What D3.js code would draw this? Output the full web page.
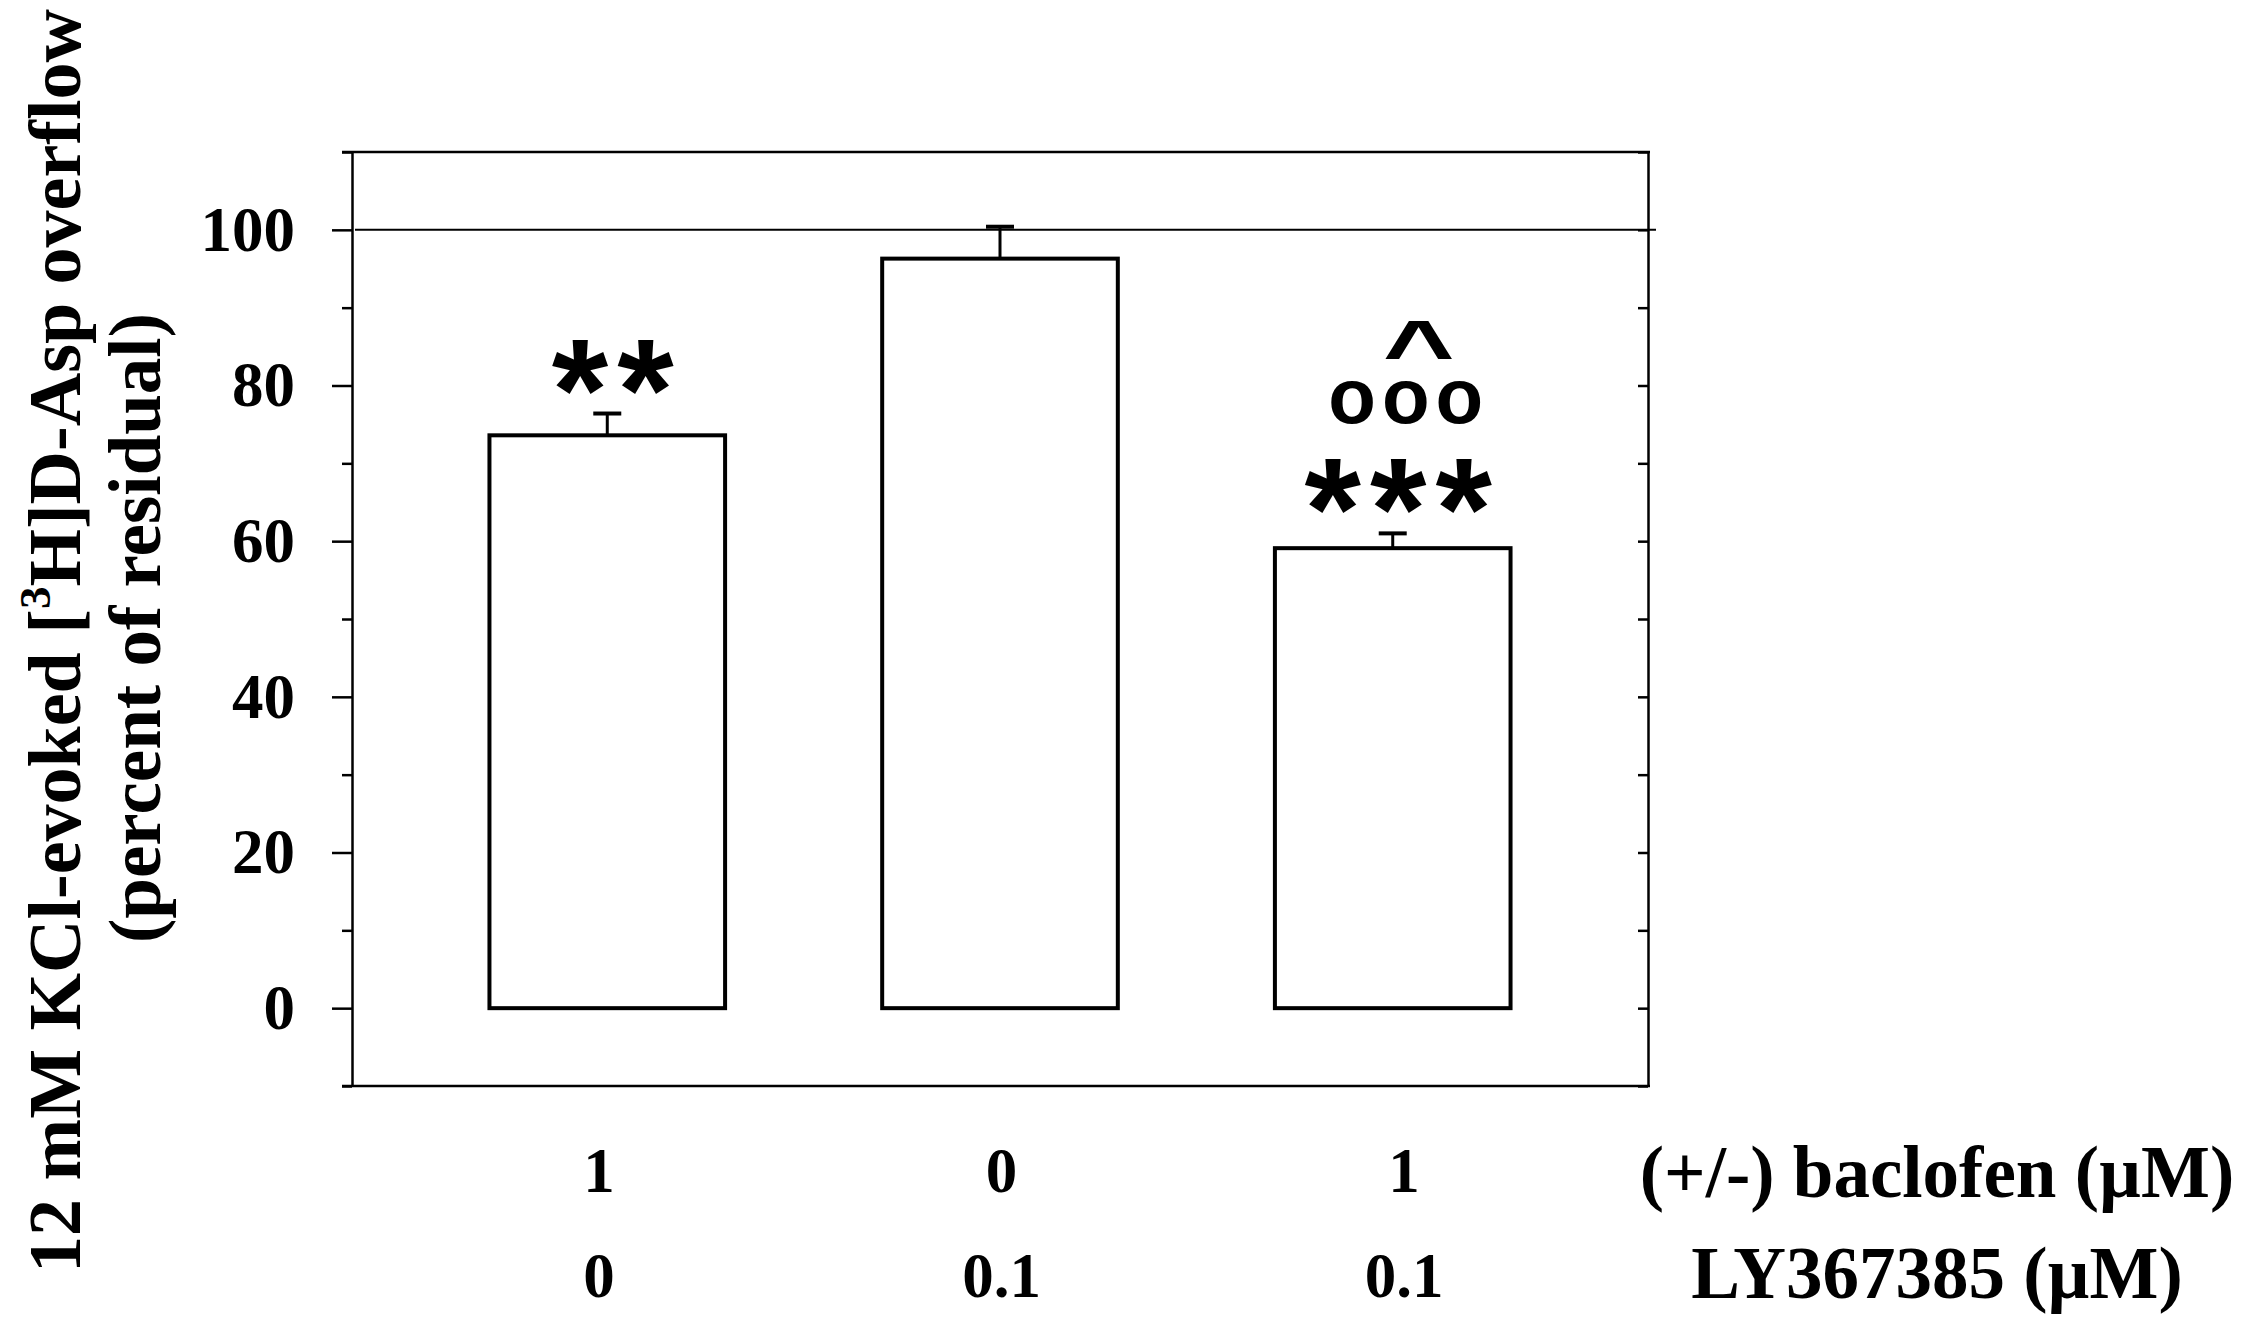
<!DOCTYPE html>
<html><head><meta charset="utf-8">
<script src="https://cdn.jsdelivr.net/npm/d3@7"></script>
<style>body{margin:0;background:#fff} svg{display:block}</style>
</head><body>
<svg id="chart" width="2247" height="1331"></svg>
<script>
const categories = ["bac1_ly0", "bac0_ly0.1", "bac1_ly0.1"];
const overflow = [73.6, 96.3, 59.1];
const sem = [2.8, 4.1, 1.9];
const baclofenDose = ["1", "0", "1"];
const lyDose = ["0", "0.1", "0.1"];
const rowTitles = ["(+/-) baclofen (\u00B5M)", "LY367385 (\u00B5M)"];
const majorTicks = [0, 20, 40, 60, 80, 100];
const minorTicks = [-10, 10, 30, 50, 70, 90, 110];
const rightTicks = [-10, 0, 10, 20, 30, 40, 50, 60, 70, 80, 90, 100, 110];
const controlLevel = 100;
const starMarks = ["**", "", "***"];
const circleMarks = ["", "", "ooo"];
const caretMarks = ["", "", "^"];

const svg = d3.select("#chart");
const serif = "'Liberation Serif', 'Times New Roman', serif";
const sans = "'Liberation Sans', Arial, sans-serif";

const x = d3.scaleBand().domain(categories).range([352, 1648]).paddingInner(0.4).paddingOuter(0.35);
const y = d3.scaleLinear().domain([-10, 110]).range([1086, 152]);
const labelX = d3.scalePoint().domain(categories).range([599, 1404]);

// frame top/bottom
svg.append("g").selectAll("line").data([110, -10]).join("line")
  .attr("x1", 342).attr("x2", 1650).attr("y1", d => y(d)).attr("y2", d => y(d))
  .attr("stroke", "#000").attr("stroke-width", 2.5);

// control line
svg.append("line").attr("x1", 355).attr("x2", 1656)
  .attr("y1", y(controlLevel)).attr("y2", y(controlLevel))
  .attr("stroke", "#000").attr("stroke-width", 2);

// left axis major
const gL = svg.append("g").attr("transform", "translate(352,0)")
  .call(d3.axisLeft(y).tickValues(majorTicks).tickSize(20).tickSizeOuter(0).tickPadding(37).tickFormat(d3.format("d")));
gL.select(".domain").attr("stroke-width", 2.5);
gL.selectAll(".tick line").attr("stroke-width", 2.5);
gL.selectAll(".tick text").attr("font-size", 63).attr("font-family", serif).attr("font-weight", "bold").attr("fill", "#000");

// left axis minor
const gLm = svg.append("g").attr("transform", "translate(352,0)")
  .call(d3.axisLeft(y).tickValues(minorTicks).tickSize(10).tickFormat(""));
gLm.select(".domain").remove();
gLm.selectAll(".tick line").attr("stroke-width", 2.5);

// right axis (inward ticks)
const gR = svg.append("g").attr("transform", "translate(1648,0)")
  .call(d3.axisLeft(y).tickValues(rightTicks).tickSize(10).tickSizeOuter(0).tickFormat(""));
gR.select(".domain").attr("stroke-width", 2.5);
gR.selectAll(".tick line").attr("stroke-width", 2.5);

// bars
const data = categories.map((c, i) => ({c, v: overflow[i], e: sem[i], i}));
svg.append("g").selectAll("rect").data(data).join("rect")
  .attr("x", d => x(d.c)).attr("y", d => y(d.v))
  .attr("width", x.bandwidth()).attr("height", d => y(0) - y(d.v))
  .attr("fill", "#fff").attr("stroke", "#000").attr("stroke-width", 4);

// error bars
const eg = svg.append("g");
eg.selectAll("line.v").data(data).join("line").attr("class", "v")
  .attr("x1", d => x(d.c) + x.bandwidth() / 2).attr("x2", d => x(d.c) + x.bandwidth() / 2)
  .attr("y1", d => y(d.v)).attr("y2", d => y(d.v + d.e))
  .attr("stroke", "#000").attr("stroke-width", 3);
eg.selectAll("line.c").data(data).join("line").attr("class", "c")
  .attr("x1", d => x(d.c) + x.bandwidth() / 2 - 14).attr("x2", d => x(d.c) + x.bandwidth() / 2 + 14)
  .attr("y1", d => y(d.v + d.e)).attr("y2", d => y(d.v + d.e))
  .attr("stroke", "#000").attr("stroke-width", 4);

// significance marks
const ag = svg.append("g").attr("fill", "#000").attr("font-weight", "bold").attr("text-anchor", "middle").attr("font-family", sans);
ag.selectAll("text.star").data(data.filter(d => starMarks[d.i])).join("text").attr("class", "star")
  .attr("x", d => x(d.c) + x.bandwidth() / 2 + 10)
  .attr("y", d => y(d.v + d.e) + 26)
  .attr("font-size", 145).attr("letter-spacing", 9)
  .text(d => starMarks[d.i]);
ag.selectAll("text.circ").data(data.filter(d => circleMarks[d.i])).join("text").attr("class", "circ")
  .attr("x", d => x(d.c) + x.bandwidth() / 2 + 16)
  .attr("y", d => y(d.v + d.e) - 110)
  .attr("font-size", 78).attr("letter-spacing", 6)
  .text(d => circleMarks[d.i]);
ag.selectAll("text.caret").data(data.filter(d => caretMarks[d.i])).join("text").attr("class", "caret")
  .attr("transform", d => `translate(${x(d.c) + x.bandwidth() / 2 + 26},${y(d.v + d.e) - 152}) scale(1.4,1)`)
  .attr("font-size", 88)
  .text(d => caretMarks[d.i]);

// category labels
const lg = svg.append("g").attr("font-family", serif).attr("font-weight", "bold").attr("text-anchor", "middle").attr("fill", "#000");
lg.selectAll("text.b").data(data).join("text").attr("class", "b")
  .attr("x", d => labelX(d.c)).attr("y", 1192).attr("font-size", 63)
  .text(d => baclofenDose[d.i]);
lg.selectAll("text.l").data(data).join("text").attr("class", "l")
  .attr("x", d => labelX(d.c)).attr("y", 1297).attr("font-size", 63)
  .text(d => lyDose[d.i]);
lg.selectAll("text.r").data(rowTitles).join("text").attr("class", "r")
  .attr("x", 1937).attr("y", (d, i) => i === 0 ? 1197 : 1298).attr("font-size", 73)
  .text(d => d);

// y title
const t1 = svg.append("text").attr("transform", "translate(80,641) rotate(-90)")
  .attr("text-anchor", "middle").attr("font-family", serif).attr("font-weight", "bold").attr("font-size", 74);
t1.append("tspan").text("12 mM KCl-evoked [");
t1.append("tspan").attr("font-size", 45).attr("dy", -30).text("3");
t1.append("tspan").attr("dy", 30).text("H]D-Asp overflow");
svg.append("text").attr("transform", "translate(160,628) rotate(-90)")
  .attr("text-anchor", "middle").attr("font-family", serif).attr("font-weight", "bold").attr("font-size", 73)
  .text("(percent of residual)");
</script>
</body></html>
